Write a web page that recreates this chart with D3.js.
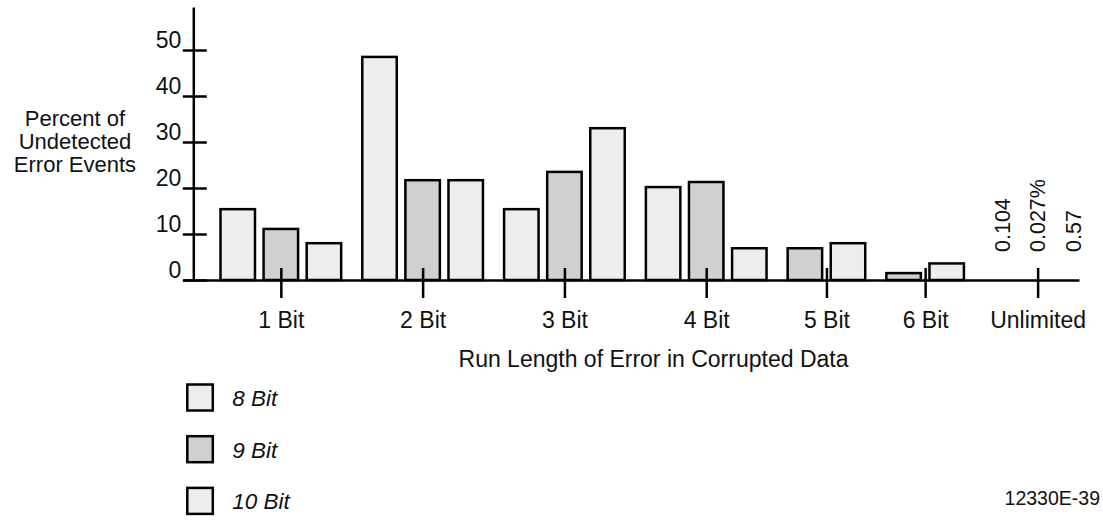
<!DOCTYPE html>
<html>
<head>
<meta charset="utf-8">
<script src="https://cdn.jsdelivr.net/npm/d3@7"></script>
<style>
  html, body { margin: 0; padding: 0; background: #fff; }
  svg { display: block; }
  text { font-family: "Liberation Sans", Arial, sans-serif; fill: #111; }
</style>
</head>
<body>
<svg id="chart" width="1103" height="521"></svg>
<script>
// ---- data ----
const groups = ["1 Bit", "2 Bit", "3 Bit", "4 Bit", "5 Bit", "6 Bit", "Unlimited"];
const seriesNames = ["8 Bit", "9 Bit", "10 Bit"];
const values8Bit  = [15.4, 48.5, 15.4, 20.2, null, null, 0.104];
const values9Bit  = [11.1, 21.7, 23.5, 21.3, 6.9, 1.5, 0.027];
const values10Bit = [8.0, 21.7, 33.0, 6.9, 8.0, 3.6, 0.57];
const textOnlyGroups = ["Unlimited"];
const textOnlyLabels = ["0.104", "0.027%", "0.57"];
const yTickValues = [0, 10, 20, 30, 40, 50];
const yTitleLines = ["Percent of", "Undetected", "Error Events"];
const xTitle = "Run Length of Error in Corrupted Data";
const figureId = "12330E-39";

// ---- styles ----
const fills = ["#ededed", "#d0d0d0", "#ededed"];
const strokeW = 2.5;
const barW = 0.8, gapU = 0.29, textPitch = 0.82;
const FONT = '"Liberation Sans", Arial, sans-serif';

const svg = d3.select("#chart");
const seriesValues = [values8Bit, values9Bit, values10Bit];

// layout in slot units
const bars = [], centers = [], textMarks = [];
let cursor = 0;
groups.forEach((g, gi) => {
  const start = cursor;
  if (textOnlyGroups.includes(g)) {
    seriesValues.forEach((vals, si) => {
      textMarks.push({ pos: start + barW / 2 + si * textPitch, label: textOnlyLabels[si], v: vals[gi] });
    });
    centers.push({ g, pos: start + barW / 2 + textPitch });
    cursor = start + 3;
  } else {
    seriesValues.forEach((vals, si) => {
      const v = vals[gi];
      if (v != null) { bars.push({ g, si, v, slot: cursor }); cursor += 1; }
    });
    centers.push({ g, pos: (start + cursor - 1 + barW) / 2 });
  }
  cursor += gapU;
});

const x = d3.scaleLinear().domain([-0.87, 19.92]).range([183, 1079]);
const y = d3.scaleLinear().domain([0, 59.35]).range([280, 7]);
const yAxisX = 193.3;

// bars
svg.append("g").selectAll("rect").data(bars).join("rect")
  .attr("x", d => x(d.slot))
  .attr("width", d => x(d.slot + barW) - x(d.slot))
  .attr("y", d => y(d.v))
  .attr("height", d => y(0) - y(d.v))
  .attr("fill", d => fills[d.si])
  .attr("stroke", "#000")
  .attr("stroke-width", strokeW);

// x axis
const xAxis = d3.axisBottom(x)
  .tickValues(centers.map(c => c.pos))
  .tickFormat((d, i) => centers[i].g)
  .tickSizeOuter(0);
const gx = svg.append("g").attr("transform", `translate(0,${y(0)})`).call(xAxis);
gx.select(".domain").attr("stroke", "#000").attr("stroke-width", strokeW);
gx.selectAll(".tick line").attr("y1", -12).attr("y2", 18).attr("stroke", "#000").attr("stroke-width", strokeW);
gx.selectAll(".tick text").attr("y", 48).attr("dy", null)
  .attr("font-size", 23).attr("fill", "#111").attr("font-family", FONT);

// y axis
const yAxis = d3.axisLeft(y).tickValues(yTickValues).tickSizeOuter(0);
const gy = svg.append("g").attr("transform", `translate(${yAxisX},0)`).call(yAxis);
gy.select(".domain").attr("stroke", "#000").attr("stroke-width", strokeW);
gy.selectAll(".tick line").attr("x1", -10.5).attr("x2", 13.5).attr("stroke", "#000").attr("stroke-width", strokeW);
gy.selectAll(".tick text").attr("x", -12).attr("dy", null).attr("y", -2.5)
  .attr("text-anchor", "end").attr("font-size", 23).attr("fill", "#111").attr("font-family", FONT);

// y title
svg.append("g").selectAll("text").data(yTitleLines).join("text")
  .attr("x", 75).attr("y", (d, i) => 126 + i * 23)
  .attr("text-anchor", "middle").attr("font-size", 22).text(d => d);

// x title
svg.append("text").attr("x", 653.5).attr("y", 366.5)
  .attr("text-anchor", "middle").attr("font-size", 23).text(xTitle);

// text-only values (Unlimited)
svg.append("g").selectAll("text").data(textMarks).join("text")
  .attr("transform", d => `translate(${x(d.pos)},252) rotate(-90)`)
  .attr("dy", "0.36em").attr("font-size", 21.5).text(d => d.label);

// legend
const legend = svg.append("g").selectAll("g").data(seriesNames).join("g")
  .attr("transform", (d, i) => `translate(187.3,${384.5 + i * 51.7})`);
legend.append("rect").attr("width", 25.5).attr("height", 26)
  .attr("fill", (d, i) => fills[i]).attr("stroke", "#000").attr("stroke-width", strokeW);
legend.append("text").attr("x", 45).attr("y", 21.5)
  .attr("font-size", 22.5).attr("font-style", "italic").text(d => d);

// figure id
svg.append("text").attr("x", 1100).attr("y", 505)
  .attr("text-anchor", "end").attr("font-size", 19.5).text(figureId);
</script>
</body>
</html>
